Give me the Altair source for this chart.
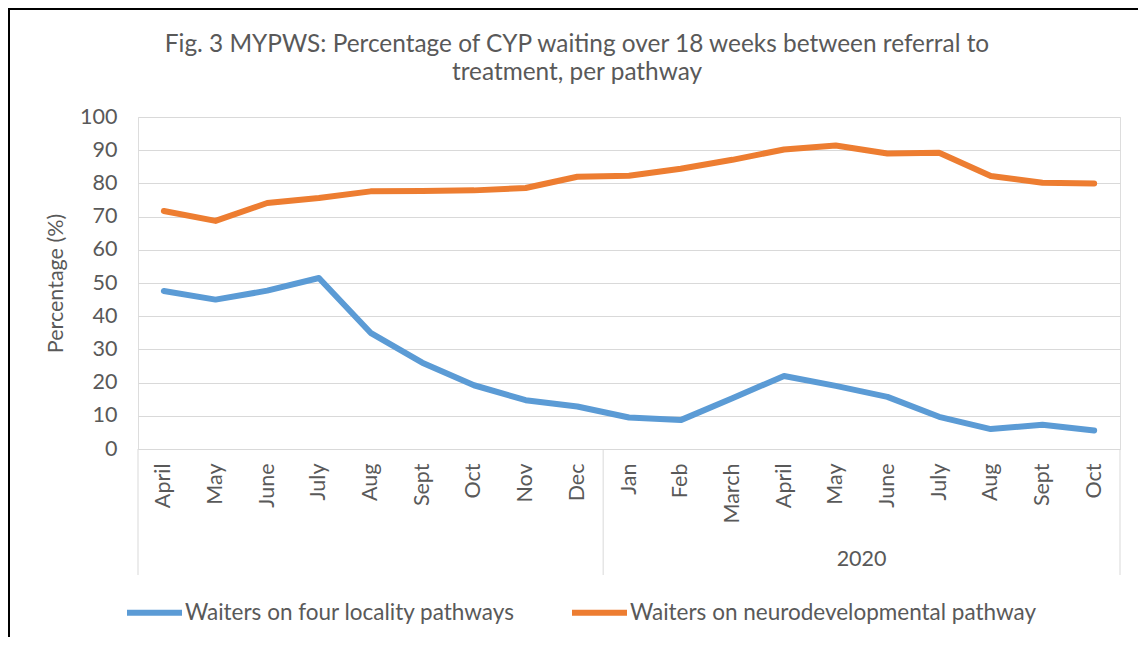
import json
import altair as alt
import pandas as pd

months = ["April", "May", "June", "July", "Aug", "Sept", "Oct", "Nov", "Dec",
          "Jan", "Feb", "March", "April", "May", "June", "July", "Aug", "Sept", "Oct"]
locality = [47.6, 45.0, 47.7, 51.5, 35.0, 26.0, 19.2, 14.7, 12.8,
            9.5, 8.7, 15.3, 22.0, 19.0, 15.7, 9.7, 6.0, 7.3, 5.6]
neuro = [71.7, 68.7, 74.1, 75.6, 77.6, 77.7, 77.9, 78.6, 82.0,
         82.3, 84.4, 87.1, 90.2, 91.4, 89.0, 89.2, 82.2, 80.2, 80.0]
series_names = ["Waiters on four locality pathways", "Waiters on neurodevelopmental pathway"]
series_colors = ["#5B9BD5", "#ED7D31"]
group_bounds = [-0.5, 8.5, 18.5]
group_labels = ["2020"]
group_centers = [13.5]
y_ticks = list(range(0, 101, 10))
title_lines = ["Fig. 3 MYPWS: Percentage of CYP waiting over 18 weeks between referral to",
               "treatment, per pathway"]

FONT = "Lato"
GREY = "#595959"
W, H = 982, 332

rows = []
for i, m in enumerate(months):
    rows.append({"idx": i, "month": m, "value": locality[i], "series": series_names[0]})
    rows.append({"idx": i, "month": m, "value": neuro[i], "series": series_names[1]})
df = pd.DataFrame(rows)

xscale = alt.Scale(domain=[-0.5, 18.5], nice=False, zero=False)
yscale = alt.Scale(domain=[0, 100], nice=False)

label_expr = json.dumps(months) + "[datum.value]"

lines = alt.Chart(df).mark_line(strokeWidth=6, strokeCap="round", strokeJoin="round").encode(
    x=alt.X("idx:Q", scale=xscale, title=None,
            axis=alt.Axis(values=list(range(len(months))), labelExpr=label_expr,
                          labelAngle=-90, ticks=False, grid=False, domain=True,
                          domainColor="#d9d9d9", labelPadding=14,
                          labelFont=FONT, labelFontSize=21.5, labelColor=GREY)),
    y=alt.Y("value:Q", scale=yscale, title="Percentage (%)",
            axis=alt.Axis(values=y_ticks, ticks=False, domain=False, gridColor="#d9d9d9",
                          labelPadding=21, labelFont=FONT, labelFontSize=21.5, labelColor=GREY,
                          titleFont=FONT, titleFontSize=21.5, titleColor=GREY,
                          titleFontWeight="normal", titlePadding=12)),
    color=alt.Color("series:N", scale=alt.Scale(domain=series_names, range=series_colors),
                    legend=alt.Legend(title=None, orient="none", direction="horizontal",
                                      legendX=-14, legendY=465, symbolType="stroke",
                                      symbolSize=3025, symbolStrokeWidth=6,
                                      labelOffset=0, columnPadding=45, labelLimit=0,
                                      labelFont=FONT, labelFontSize=22.5, labelColor=GREY)),
    detail="series:N",
)

sep_df = pd.DataFrame({"b": group_bounds})
seps = alt.Chart(sep_df).mark_rule(color="#d9d9d9", strokeWidth=1).encode(
    x=alt.X("b:Q", scale=xscale),
    y=alt.value(H),
    y2=alt.value(H + 126),
)

yr_df = pd.DataFrame({"c": group_centers, "t": group_labels})
years = alt.Chart(yr_df).mark_text(font=FONT, fontSize=21.5, color=GREY, baseline="middle").encode(
    x=alt.X("c:Q", scale=xscale),
    y=alt.value(H + 111),
    text="t:N",
)

title_df = pd.DataFrame({"t": ["\n".join(title_lines)]})
title = alt.Chart(title_df).mark_text(font=FONT, fontSize=24.4, color=GREY, baseline="middle",
                                      align="center", lineBreak="\n", lineHeight=28).encode(
    x=alt.value(439), y=alt.value(-72), text="t:N",
)

border = alt.Chart(pd.DataFrame({"k": [0]})).mark_rect(fill=None, stroke="black", strokeWidth=2).encode(
    x=alt.value(-129), x2=alt.value(W + 60), y=alt.value(-108), y2=alt.value(H + 300),
)

chart = alt.layer(border, seps, lines, years, title).properties(
    width=W, height=H,
    autosize=alt.AutoSizeParams(type="none"),
    padding={"left": 130, "top": 109, "right": 18, "bottom": 188},
).configure_view(stroke=None).configure(background="white")

chart.save("out.html", embed_options={"renderer": "svg", "actions": False})
